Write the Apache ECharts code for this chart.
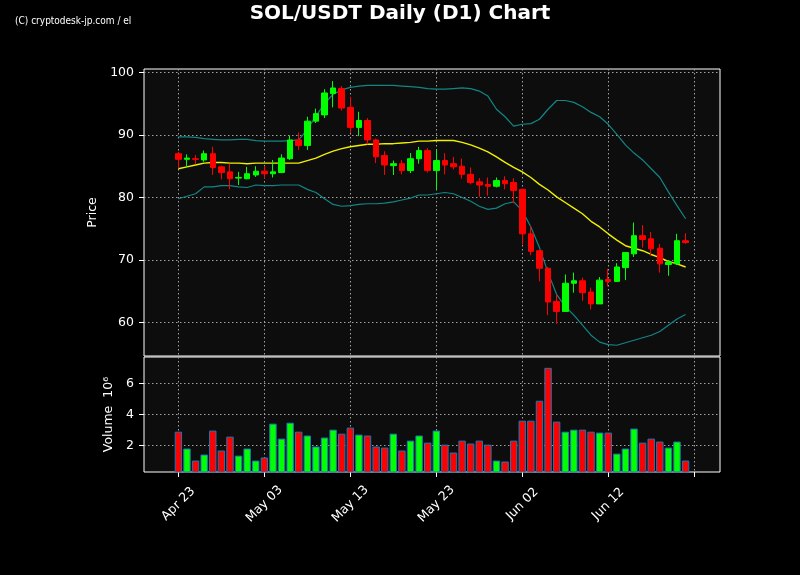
<!DOCTYPE html>
<html>
<head>
<meta charset="utf-8">
<script src="https://cdn.jsdelivr.net/npm/echarts@6/dist/echarts.min.js"></script>
<style>
html,body{margin:0;padding:0;background:#000;}
#chart{width:800px;height:575px;}
</style>
</head>
<body>
<div id="chart"></div>
<script>
// Trading days (Apr 23 .. Jun 21)
const dates = [
 'Apr 23','Apr 24','Apr 25','Apr 26','Apr 27','Apr 28','Apr 29','Apr 30',
 'May 01','May 02','May 03','May 04','May 05','May 06','May 07','May 08','May 09','May 10',
 'May 11','May 12','May 13','May 14','May 15','May 16','May 17','May 18','May 19','May 20',
 'May 21','May 22','May 23','May 24','May 25','May 26','May 27','May 28','May 29','May 30','May 31',
 'Jun 01','Jun 02','Jun 03','Jun 04','Jun 05','Jun 06','Jun 07','Jun 08','Jun 09','Jun 10',
 'Jun 11','Jun 12','Jun 13','Jun 14','Jun 15','Jun 16','Jun 17','Jun 18','Jun 19','Jun 20','Jun 21'
];
// axis padding days
const padBefore = ['Apr 19','Apr 20','Apr 21','Apr 22'];
const padAfter = ['Jun 22','Jun 23','Jun 24','Jun 25'];
const tickDays = ['Apr 23','May 03','May 13','May 23','Jun 02','Jun 12','Jun 22'];
const labelDays = ['Apr 23','May 03','May 13','May 23','Jun 02','Jun 12'];
const priceTicks = [60,70,80,90,100];
const volTicks = [2,4,6];

const open  = [87.0,86.1,86.2,86.0,87.0,84.9,84.1,83.1,83.0,83.6,84.2,83.8,84.0,86.2,89.2,88.3,92.2,93.2,96.6,97.4,
               94.4,91.2,92.3,89.2,86.7,85.1,85.4,84.3,86.2,87.5,84.3,85.9,85.4,85.0,83.7,82.5,82.1,81.8,82.7,82.4,
               81.3,74.2,71.5,68.7,63.4,61.8,66.3,66.7,64.9,63.0,66.9,66.6,68.8,71.0,73.9,73.4,71.9,69.3,69.4,73.1];
const close = [86.1,86.3,86.1,87.0,84.8,84.0,83.0,83.2,83.8,84.2,83.8,84.1,86.3,89.2,88.3,92.2,93.4,96.7,97.5,94.3,
               91.2,92.3,89.2,86.5,85.2,85.4,84.3,86.2,87.5,84.3,85.9,85.2,84.9,83.7,82.4,82.0,81.8,82.7,82.2,81.1,
               74.2,71.4,68.7,63.3,61.8,66.3,66.7,64.8,63.0,66.8,66.6,68.9,71.2,73.9,73.3,71.8,69.4,69.7,73.1,72.8];
const low   = [84.7,84.9,85.3,85.7,83.6,82.9,81.3,82.0,82.9,83.3,83.1,83.2,83.9,86.0,87.6,87.6,91.9,92.7,94.4,93.9,
               90.3,89.8,88.5,85.5,83.6,83.6,83.7,83.9,85.4,84.0,81.3,83.7,84.5,83.0,82.1,80.1,80.3,81.6,81.3,79.1,
               72.5,70.8,66.6,61.2,59.8,61.8,64.8,63.5,62.1,63.0,65.8,66.5,66.8,70.5,72.0,70.7,68.0,67.5,69.2,72.6];
const high  = [87.3,86.9,86.8,87.5,88.1,85.1,85.4,84.1,84.9,85.0,85.0,86.0,86.9,89.9,90.4,92.9,94.2,97.3,98.6,97.8,
               96.1,93.7,92.7,89.4,87.4,85.9,86.0,87.1,88.1,87.9,87.6,87.1,86.5,86.2,84.8,83.1,83.2,83.2,83.4,83.1,
               81.4,75.5,71.6,68.9,64.5,67.7,68.0,67.2,65.6,67.3,68.6,69.5,71.3,76.0,75.6,74.5,72.6,70.0,74.2,74.3];
// volume in millions
const volume = [2.90,1.81,1.03,1.42,2.97,1.68,2.58,1.35,1.81,1.03,1.23,3.42,2.45,3.48,2.90,2.65,1.94,2.52,3.03,2.77,
                3.16,2.71,2.65,1.94,1.87,2.77,1.68,2.32,2.65,2.19,2.97,2.06,1.55,2.32,2.13,2.32,2.06,1.03,0.97,2.32,
                3.61,3.61,4.90,7.03,3.55,2.90,3.03,3.03,2.90,2.84,2.84,1.48,1.81,3.10,2.19,2.45,2.26,1.87,2.26,1.03];
const ma    = [84.6,84.9,85.2,85.5,85.6,85.6,85.5,85.5,85.4,85.5,85.5,85.5,85.5,85.5,85.5,85.9,86.3,86.9,87.4,87.8,
               88.1,88.3,88.5,88.5,88.6,88.6,88.7,88.8,89.0,89.0,89.1,89.1,89.1,88.8,88.4,87.9,87.3,86.5,85.6,84.8,
               84.1,83.2,82.1,81.2,80.1,79.2,78.3,77.4,76.2,75.3,74.2,73.2,72.3,71.9,71.5,70.9,70.4,69.8,69.4,68.9];
const upper = [89.7,89.7,89.6,89.4,89.3,89.2,89.2,89.3,89.3,89.1,89.0,89.0,89.0,89.1,89.2,90.9,93.0,95.0,96.5,97.2,
               97.6,97.8,97.9,97.9,97.9,97.9,97.8,97.7,97.6,97.4,97.3,97.3,97.4,97.5,97.4,97.0,96.2,94.1,92.9,91.4,
               91.7,91.8,92.5,94.1,95.5,95.5,95.2,94.5,93.6,92.9,91.7,90.1,88.4,87.1,86.0,84.6,83.2,80.9,78.7,76.6];
const lower = [79.8,80.2,80.6,81.7,81.7,81.9,81.9,81.7,81.6,82.0,81.9,81.9,82.0,82.0,82.0,81.3,80.8,79.8,78.9,78.6,
               78.7,78.9,79.0,79.0,79.1,79.3,79.6,79.9,80.4,80.4,80.6,80.8,80.6,80.0,79.4,78.6,78.1,78.3,79.0,79.3,
               77.9,75.3,72.0,68.0,64.5,62.6,61.2,59.6,58.0,56.9,56.5,56.4,56.8,57.2,57.6,58.0,58.6,59.6,60.6,61.3];

const axisDays = padBefore.concat(dates, padAfter);
const UP = '#00ff00', DOWN = '#ff0000';
const FONT = 'DejaVu Sans';
const gridLine = {show: true, lineStyle: {color: '#a0a0a0', width: 1, type: [1.5, 2.5]}};

const chart = echarts.init(document.getElementById('chart'), null, {renderer: 'canvas'});
const candleData = dates.map((d, i) => [d, open[i], close[i], low[i], high[i]]);
const line = (arr) => dates.map((d, i) => [d, arr[i]]);
const volData = dates.map((d, i) => ({value: [d, volume[i]], itemStyle: {color: close[i] >= open[i] ? UP : DOWN}}));

chart.setOption({
  backgroundColor: '#000',
  animation: false,
  title: {
    text: 'SOL/USDT Daily (D1) Chart', left: 'center', top: -1,
    textStyle: {color: '#fff', fontSize: 20, fontWeight: 'bold', fontFamily: FONT}
  },
  graphic: [{
    type: 'text', left: 15, top: 16,
    style: {text: '(C) cryptodesk-jp.com / el', fill: '#fff', fontSize: 10,
            fontFamily: "'Liberation Sans Narrow', 'DejaVu Sans Condensed', sans-serif"}
  }],
  grid: [
    {left: 144, right: 80, top: 69, height: 287, show: true, backgroundColor: '#0d0d0d', borderColor: '#fff', borderWidth: 1},
    {left: 144, right: 80, top: 357, height: 115, show: true, backgroundColor: '#0d0d0d', borderColor: '#fff', borderWidth: 1}
  ],
  xAxis: [
    {type: 'category', gridIndex: 0, data: axisDays, boundaryGap: false,
     axisLine: {show: false}, axisTick: {show: false}, axisLabel: {show: false},
     splitLine: Object.assign({interval: (i, v) => tickDays.includes(v)}, gridLine)},
    {type: 'category', gridIndex: 1, data: axisDays, boundaryGap: false,
     axisLine: {show: false},
     axisTick: {show: true, length: 5, interval: (i, v) => tickDays.includes(v), lineStyle: {color: '#fff'}},
     axisLabel: {interval: (i, v) => labelDays.includes(v), rotate: 45, align: 'center', verticalAlign: 'middle',
                 margin: 32, color: '#fff', fontSize: 12.5, fontFamily: FONT},
     splitLine: Object.assign({interval: (i, v) => tickDays.includes(v)}, gridLine)}
  ],
  yAxis: [
    {type: 'value', gridIndex: 0, min: 54.68, max: 100.53, scale: true,
     axisLine: {show: false},
     axisTick: {show: true, length: 5, customValues: priceTicks, lineStyle: {color: '#fff'}},
     axisLabel: {customValues: priceTicks, color: '#fff', fontSize: 12.5, fontFamily: FONT, margin: 10},
     splitLine: gridLine,
     name: 'Price', nameLocation: 'middle', nameGap: 39,
     nameTextStyle: {color: '#fff', fontSize: 12.5, fontFamily: FONT}},
    {type: 'value', gridIndex: 1, min: 0.29, max: 7.73, scale: true,
     axisLine: {show: false},
     axisTick: {show: true, length: 5, customValues: volTicks, lineStyle: {color: '#fff'}},
     axisLabel: {customValues: volTicks, color: '#fff', fontSize: 12.5, fontFamily: FONT, margin: 10},
     splitLine: gridLine,
     name: 'Volume  10⁶', nameLocation: 'middle', nameGap: 25,
     nameTextStyle: {color: '#fff', fontSize: 12.5, fontFamily: FONT}}
  ],
  series: [
    {type: 'line', xAxisIndex: 0, yAxisIndex: 0, data: line(upper), showSymbol: false,
     lineStyle: {color: '#138585', width: 1.2}, z: 2},
    {type: 'line', xAxisIndex: 0, yAxisIndex: 0, data: line(lower), showSymbol: false,
     lineStyle: {color: '#138585', width: 1.2}, z: 2},
    {type: 'line', xAxisIndex: 0, yAxisIndex: 0, data: line(ma), showSymbol: false,
     lineStyle: {color: '#f0f000', width: 1.4}, z: 2},
    {type: 'candlestick', xAxisIndex: 0, yAxisIndex: 0, data: candleData,
     encode: {x: 0, y: [1, 2, 3, 4]}, barWidth: 6, z: 3,
     itemStyle: {color: UP, color0: DOWN, borderColor: UP, borderColor0: DOWN, borderWidth: 1}},
    {type: 'bar', xAxisIndex: 1, yAxisIndex: 1, data: volData, barWidth: 7.4,
     itemStyle: {borderColor: '#1f77b4', borderWidth: 1}}
  ]
});
</script>
</body>
</html>
